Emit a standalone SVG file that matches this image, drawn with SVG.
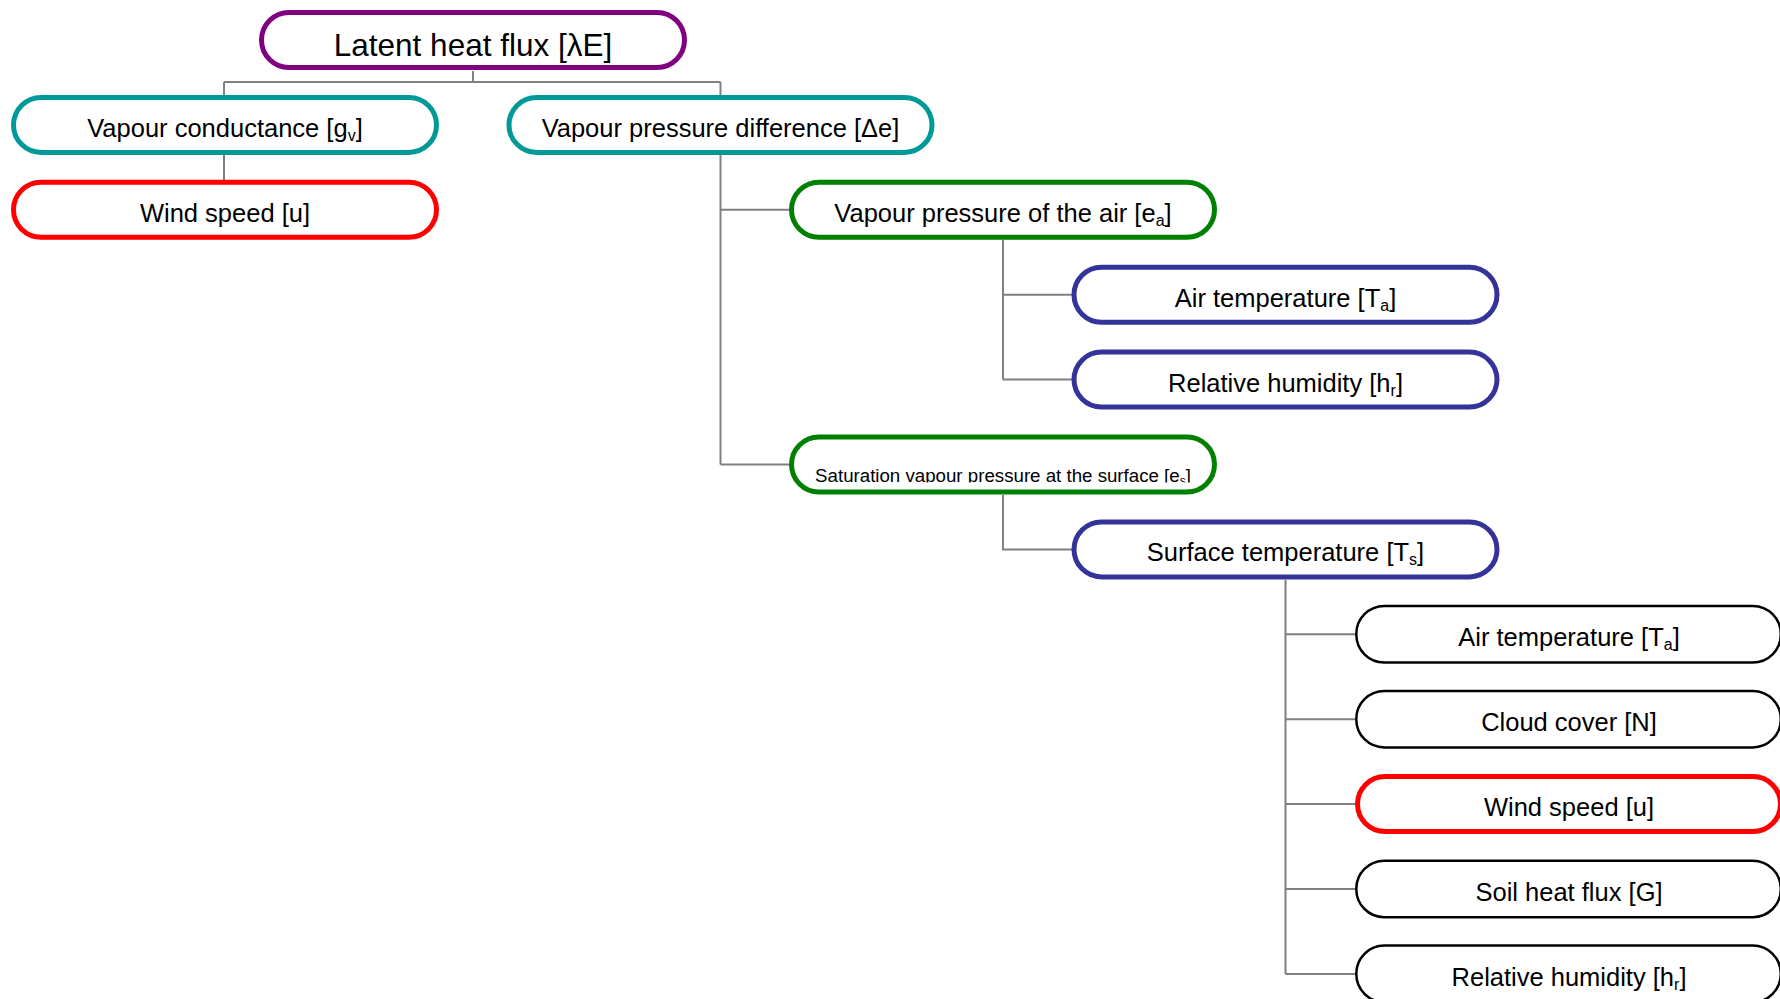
<svg xmlns="http://www.w3.org/2000/svg" width="1780" height="999" viewBox="0 0 1780 999">
<defs>
<style>
.p{fill:#fff;stroke-width:5}
.pb{fill:#fff;stroke:#000;stroke-width:2.5}
.purple{stroke:#800080}
.teal{stroke:#009999}
.red{stroke:#ff0000}
.green{stroke:#008000}
.blue{stroke:#333399}
.t{font-family:"Liberation Sans",Arial,sans-serif;font-size:25.5px;fill:#000;text-anchor:middle}
.sub{font-size:16px}
.c{fill:none;stroke:#808080;stroke-width:2}
</style>
<clipPath id="satclip"><rect x="780" y="430" width="450" height="52.5"/></clipPath>
</defs>
<rect width="1780" height="999" fill="#fff"/>
<g id="connectors">
<path class="c" d="M473 71V82M224 82H720.5M224 82V95M720.5 82V95"/>
<path class="c" d="M224 155V180"/>
<path class="c" d="M720.5 155V464.5M720.5 209.8H789M720.5 464.5H789"/>
<path class="c" d="M1003 240V379.6M1003 294.7H1072M1003 379.6H1072"/>
<path class="c" d="M1003 495V549.4H1072"/>
<path class="c" d="M1285.5 580V973.9M1285.5 634.3H1355M1285.5 719.2H1355M1285.5 804.1H1355M1285.5 889H1355M1285.5 973.9H1355"/>
</g>
<g id="latent-heat-flux">
<rect class="p purple" x="261.5" y="12.5" width="423" height="55" rx="27.5"/>
<text class="t" x="473" y="56" style="font-size:31.5px">Latent heat flux [λE]</text>
</g>
<g id="vapour-conductance">
<rect class="p teal" x="13.5" y="97.4" width="423" height="55" rx="27.5"/>
<text class="t" x="225" y="136.9">Vapour conductance [g<tspan class="sub" dy="4">v</tspan><tspan dy="-4">]</tspan></text>
</g>
<g id="wind-speed-1">
<rect class="p red" x="13.5" y="182.3" width="423" height="55" rx="27.5"/>
<text class="t" x="225" y="221.8">Wind speed [u]</text>
</g>
<g id="vapour-pressure-difference">
<rect class="p teal" x="509" y="97.4" width="423" height="55" rx="27.5"/>
<text class="t" x="720.5" y="136.9">Vapour pressure difference [Δe]</text>
</g>
<g id="vapour-pressure-air">
<rect class="p green" x="791.5" y="182.3" width="423" height="55" rx="27.5"/>
<text class="t" x="1003" y="221.8">Vapour pressure of the air [e<tspan class="sub" dy="4">a</tspan><tspan dy="-4">]</tspan></text>
</g>
<g id="air-temperature-1">
<rect class="p blue" x="1074" y="267.2" width="423" height="55" rx="27.5"/>
<text class="t" x="1285.5" y="306.7">Air temperature [T<tspan class="sub" dy="4">a</tspan><tspan dy="-4">]</tspan></text>
</g>
<g id="relative-humidity-1">
<rect class="p blue" x="1074" y="352.1" width="423" height="55" rx="27.5"/>
<text class="t" x="1285.5" y="391.6">Relative humidity [h<tspan class="sub" dy="4">r</tspan><tspan dy="-4">]</tspan></text>
</g>
<g id="saturation-vapour-pressure">
<rect class="p green" x="791.5" y="437" width="423" height="55" rx="27.5"/>
<text class="t" x="1003" y="482" clip-path="url(#satclip)" style="font-size:18.7px">Saturation vapour pressure at the surface [e<tspan style="font-size:12px" dy="3">s</tspan><tspan dy="-3">]</tspan></text>
</g>
<g id="surface-temperature">
<rect class="p blue" x="1074" y="521.9" width="423" height="55" rx="27.5"/>
<text class="t" x="1285.5" y="561.4">Surface temperature [T<tspan class="sub" dy="4">s</tspan><tspan dy="-4">]</tspan></text>
</g>
<g id="air-temperature-2">
<rect class="pb" x="1356.3" y="606" width="424.5" height="56.5" rx="28"/>
<text class="t" x="1569" y="646.3">Air temperature [T<tspan class="sub" dy="4">a</tspan><tspan dy="-4">]</tspan></text>
</g>
<g id="cloud-cover">
<rect class="pb" x="1356.3" y="690.9" width="424.5" height="56.5" rx="28"/>
<text class="t" x="1569" y="731.2">Cloud cover [N]</text>
</g>
<g id="wind-speed-2">
<rect class="p red" x="1357.5" y="776.6" width="423" height="55" rx="27.5"/>
<text class="t" x="1569" y="816.1">Wind speed [u]</text>
</g>
<g id="soil-heat-flux">
<rect class="pb" x="1356.3" y="860.7" width="424.5" height="56.5" rx="28"/>
<text class="t" x="1569" y="901">Soil heat flux [G]</text>
</g>
<g id="relative-humidity-2">
<rect class="pb" x="1356.3" y="945.6" width="424.5" height="56.5" rx="28"/>
<text class="t" x="1569" y="985.9">Relative humidity [h<tspan class="sub" dy="4">r</tspan><tspan dy="-4">]</tspan></text>
</g>
</svg>
